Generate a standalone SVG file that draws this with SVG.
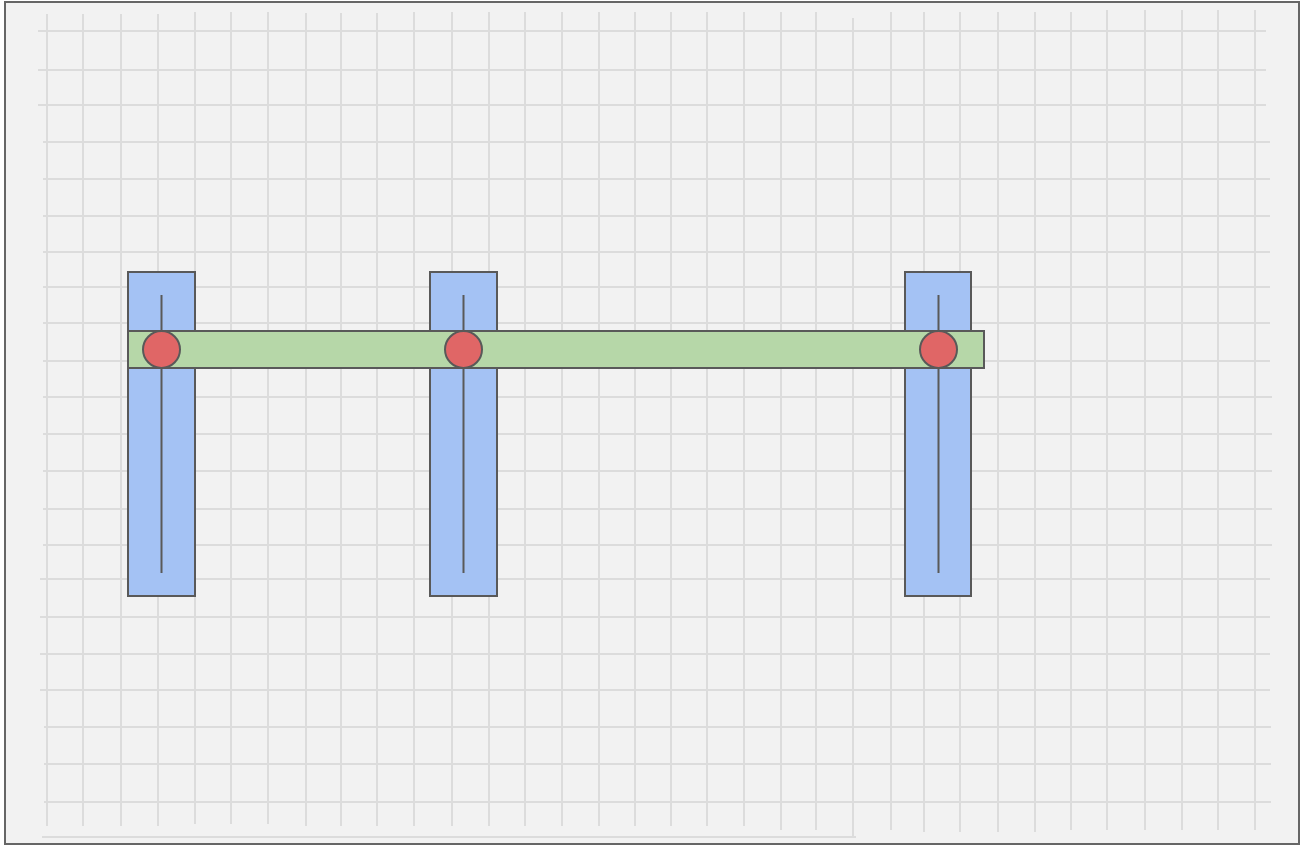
<svg xmlns="http://www.w3.org/2000/svg" width="1300" height="846" viewBox="0 0 1300 846">
<style>
.g line{stroke:#dcdcdc;stroke-width:2;stroke-linecap:butt}
.col{fill:#a4c2f4;stroke:#595959;stroke-width:2}
.beam{fill:#b6d7a8;stroke:#595959;stroke-width:2}
.joint{fill:#e06666;stroke:#595959;stroke-width:2}
.axis{stroke:#595959;stroke-width:2}
</style>
<rect x="5" y="2" width="1294" height="842" fill="#f2f2f2" stroke="#666" stroke-width="2"/>
<g class="g" id="grid">
<line x1="47" y1="14" x2="47" y2="826"/>
<line x1="83" y1="14" x2="83" y2="826"/>
<line x1="121" y1="14" x2="121" y2="826"/>
<line x1="158" y1="14" x2="158" y2="826"/>
<line x1="195" y1="12" x2="195" y2="824"/>
<line x1="231" y1="12" x2="231" y2="824"/>
<line x1="268" y1="12" x2="268" y2="824"/>
<line x1="306" y1="13" x2="306" y2="826"/>
<line x1="341" y1="13" x2="341" y2="826"/>
<line x1="377" y1="13" x2="377" y2="826"/>
<line x1="414" y1="12" x2="414" y2="826"/>
<line x1="452" y1="12" x2="452" y2="826"/>
<line x1="489" y1="12" x2="489" y2="826"/>
<line x1="525" y1="12" x2="525" y2="826"/>
<line x1="562" y1="12" x2="562" y2="826"/>
<line x1="599" y1="12" x2="599" y2="826"/>
<line x1="635" y1="12" x2="635" y2="826"/>
<line x1="671" y1="12" x2="671" y2="826"/>
<line x1="707" y1="12" x2="707" y2="826"/>
<line x1="744" y1="12" x2="744" y2="826"/>
<line x1="781" y1="12" x2="781" y2="830"/>
<line x1="816" y1="12" x2="816" y2="830"/>
<line x1="853" y1="18" x2="853" y2="837"/>
<line x1="891" y1="12" x2="891" y2="830"/>
<line x1="924" y1="12" x2="924" y2="832"/>
<line x1="960" y1="12" x2="960" y2="832"/>
<line x1="998" y1="12" x2="998" y2="832"/>
<line x1="1035" y1="12" x2="1035" y2="832"/>
<line x1="1071" y1="12" x2="1071" y2="830"/>
<line x1="1107" y1="10" x2="1107" y2="830"/>
<line x1="1145" y1="10" x2="1145" y2="830"/>
<line x1="1182" y1="10" x2="1182" y2="830"/>
<line x1="1218" y1="10" x2="1218" y2="830"/>
<line x1="1255" y1="10" x2="1255" y2="830"/>
<line x1="38" y1="31" x2="1266" y2="31"/>
<line x1="38" y1="70" x2="1266" y2="70"/>
<line x1="38" y1="105" x2="1266" y2="105"/>
<line x1="43" y1="142" x2="1270" y2="142"/>
<line x1="43" y1="179" x2="1270" y2="179"/>
<line x1="43" y1="216" x2="1270" y2="216"/>
<line x1="43" y1="252" x2="1270" y2="252"/>
<line x1="43" y1="287" x2="1270" y2="287"/>
<line x1="43" y1="323" x2="1270" y2="323"/>
<line x1="43" y1="361" x2="1270" y2="361"/>
<line x1="43" y1="397" x2="1272" y2="397"/>
<line x1="43" y1="434" x2="1272" y2="434"/>
<line x1="43" y1="471" x2="1272" y2="471"/>
<line x1="43" y1="509" x2="1272" y2="509"/>
<line x1="43" y1="545" x2="1272" y2="545"/>
<line x1="40" y1="579" x2="1270" y2="579"/>
<line x1="40" y1="617" x2="1270" y2="617"/>
<line x1="40" y1="654" x2="1270" y2="654"/>
<line x1="40" y1="690" x2="1270" y2="690"/>
<line x1="44" y1="727" x2="1271" y2="727"/>
<line x1="44" y1="764" x2="1271" y2="764"/>
<line x1="44" y1="802" x2="1271" y2="802"/>
<line x1="42" y1="837" x2="856" y2="837"/>
</g>
<g id="column-1"><rect class="col" x="128" y="272" width="67" height="324"/></g>
<g id="column-2"><rect class="col" x="430" y="272" width="67" height="324"/></g>
<g id="column-3"><rect class="col" x="905" y="272" width="66" height="324"/></g>
<g id="beam"><rect class="beam" x="128" y="331" width="856" height="37"/></g>
<g id="connectors">
<line class="axis" x1="161.5" y1="295" x2="161.5" y2="573"/>
<line class="axis" x1="463.5" y1="295" x2="463.5" y2="573"/>
<line class="axis" x1="938.5" y1="295" x2="938.5" y2="573"/>
</g>
<g id="joint-1"><circle class="joint" cx="161.5" cy="349.5" r="18.5"/></g>
<g id="joint-2"><circle class="joint" cx="463.5" cy="349.5" r="18.5"/></g>
<g id="joint-3"><circle class="joint" cx="938.5" cy="349.5" r="18.5"/></g>
</svg>
